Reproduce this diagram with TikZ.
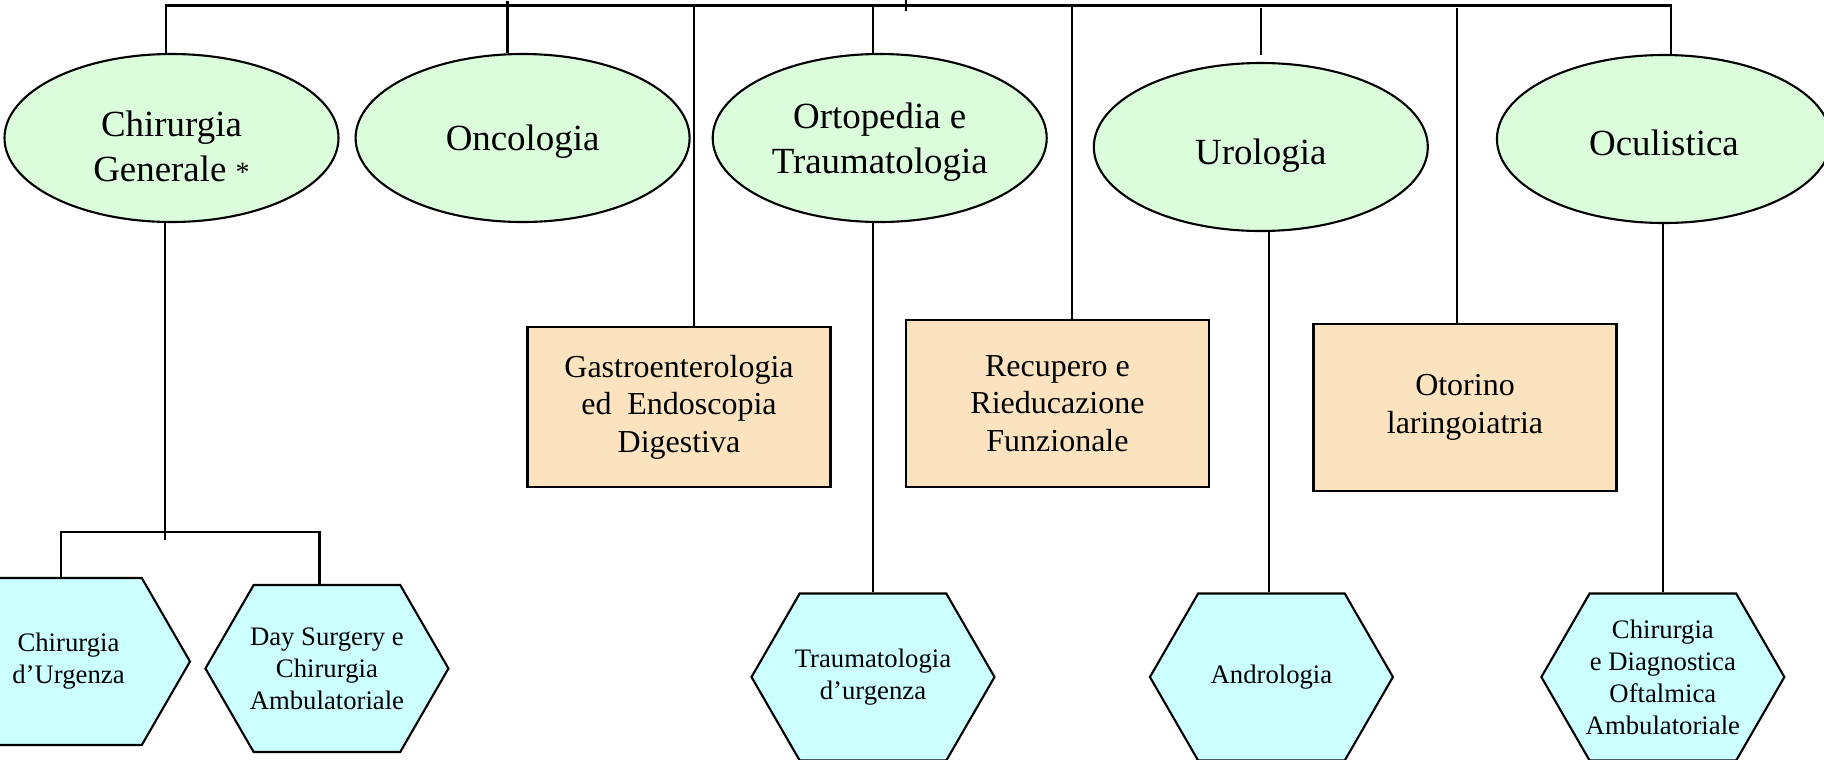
\documentclass[tikz,border=0pt]{standalone}
\usepackage{fontspec}
\setmainfont{Liberation Serif}
\usepackage{tikz}
\usetikzlibrary{positioning,shapes.geometric,shapes.symbols}
\definecolor{DeptGreen}{HTML}{DCFDDC}
\definecolor{ServiceTan}{HTML}{FBE3BF}
\definecolor{UnitCyan}{HTML}{CCFFFF}
\tikzset{
  dept/.style={ellipse,draw,line width=0.6pt,fill=DeptGreen,minimum width=33.4mm,minimum height=16.8mm,inner sep=0pt,text depth=0pt,align=center,font=\fontsize{10.5}{12.8}\selectfont},
  service/.style={rectangle,draw,line width=0.8pt,fill=ServiceTan,minimum width=30.3mm,minimum height=16.7mm,align=center,font=\fontsize{9.1}{10.7}\selectfont},
  unit/.style={signal,signal to=west and east,signal pointer angle=120,draw,line width=0.6pt,fill=UnitCyan,minimum width=24.3mm,minimum height=16.7mm,inner ysep=0pt,inner xsep=-1.5mm,align=center,font=\fontsize{7.6}{9.1}\selectfont},
  link/.style={line width=0.65pt,draw=black}
}

\begin{document}
\begin{tikzpicture}[x=1mm,y=1mm]
  \useasboundingbox (0,0) rectangle (182.4,-75.9);
  \clip (0,0) rectangle (182.4,-75.9);
  % departments
  \node[dept,text height=8.6mm] (chir) at (17.15,-13.8) {Chirurgia\\Generale {\footnotesize *}};
  \node[dept,right=1.5mm of chir] (onco) {Oncologia};
  \node[dept,right=2.1mm of onco] (orto) {Ortopedia e\\Traumatologia};
  \node[dept,right=4.5mm of orto,yshift=-0.9mm,text height=3.4mm] (uro) {Urologia};
  \node[dept,right=6.7mm of uro,yshift=0.8mm,text height=3.25mm] (ocul) {Oculistica};
  % services
  \node[service,minimum height=16mm] (gastro) at (67.9,-40.7) {Gastroenterologia\\ed\ \ Endoscopia\\Digestiva};
  \node[service] (recup) at (105.75,-40.35) {Recupero e\\Rieducazione\\Funzionale};
  \node[service] (otor) at (146.5,-40.75) {Otorino\\laringoiatria};
  % units
  \node[unit] (urg) at (6.85,-66.15) {Chirurgia\\d’Urgenza};
  \node[unit,right=1.3mm of urg,yshift=-0.7mm] (day) {Day Surgery e\\Chirurgia\\Ambulatoriale};
  \node[unit] (trauma) at (87.3,-67.7) {Traumatologia\\d’urgenza};
  \node[unit,right=15.3mm of trauma] (andro) {Andrologia};
  \node[unit,right=14.6mm of andro] (ocsub) {Chirurgia\\e Diagnostica\\Oftalmica\\Ambulatoriale};

  % top bar and drops
  \coordinate (bar) at (0,-0.55);
  \coordinate (tick) at (90.6,0);
  \coordinate (c1) at ([xshift=-0.55mm]chir.north);
  \coordinate (c3) at ([xshift=-0.7mm]orto.north);
  \coordinate (c5) at ([xshift=0.7mm]ocul.north);
  \coordinate (g) at ([xshift=1.5mm]gastro.north);
  \coordinate (r) at ([xshift=1.45mm]recup.north);
  \draw[link] (c1) -- (c1 |- bar) -- (c5 |- bar) -- (c5);
  \draw[link] (tick) -- ++(0,-1.1);
  \draw[link] ([xshift=-1.5mm]onco.north) -- ++(0,5.2);
  \draw[link] (c3) -- (c3 |- bar);
  \draw[link] ([yshift=0.7mm]uro.north) -- ++(0,4.7);
  \draw[link] (g) -- (g |- bar);
  \draw[link] (r) -- (r |- bar);
  \draw[link] ([xshift=-0.8mm]otor.north) -- ++(0,31.5);

  % from departments down to units
  \coordinate (split) at (16.3,-53.2);
  \coordinate (c1b) at ([xshift=-0.65mm]chir.south);
  \coordinate (u) at ([xshift=-0.75mm]urg.north);
  \coordinate (d) at ([xshift=-0.75mm]day.north);
  \draw[link] (c1b) -- (c1b |- split) -- ++(0,-0.8);
  \draw[link] (u) -- (u |- split) -- (d |- split) -- (d);
  \draw[link] (trauma.north) -- (trauma.north |- orto.south);
  \draw[link] ([xshift=0.8mm]uro.south) -- ([xshift=0.8mm]uro.south |- andro.north);
  \draw[link] (ocsub.north) -- (ocsub.north |- ocul.south);
\end{tikzpicture}
\end{document}
